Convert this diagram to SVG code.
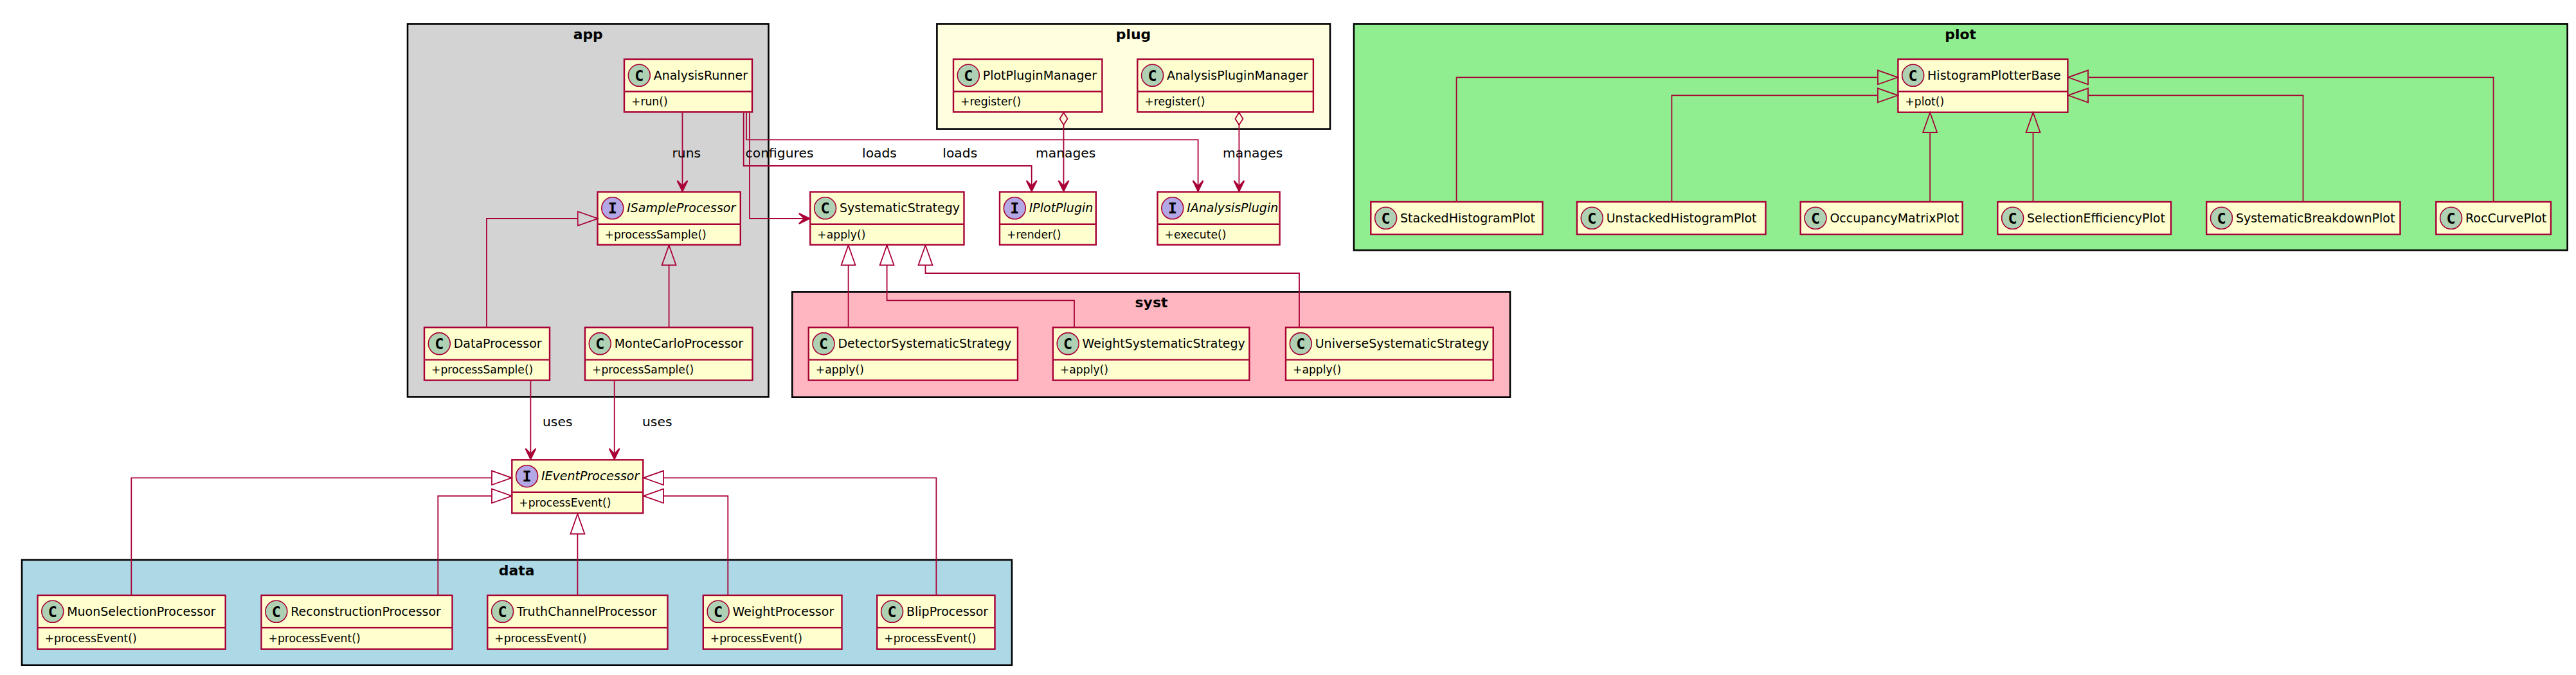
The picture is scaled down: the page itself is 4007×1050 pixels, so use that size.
<svg xmlns="http://www.w3.org/2000/svg" width="4007" height="1050" viewBox="0 0 4007 1050">
<style>
text{font-family:"DejaVu Sans",sans-serif;fill:#000}
.pk{stroke:#000;stroke-width:2.6}
.t{font-size:21.9px;font-weight:bold;text-anchor:middle}
.b{fill:#FEFECE;stroke:#A80036;stroke-width:2.4}
.d{stroke:#A80036;stroke-width:2.4}
.c{fill:#ADD1B2;stroke:#A80036;stroke-width:1.6}
.i{fill:#B4A7E5;stroke:#A80036;stroke-width:1.6}
.g{font-family:"DejaVu Sans Mono",monospace;font-size:23.5px;font-weight:bold;text-anchor:middle}
.n{font-size:19px}
.ni{font-size:19px;font-style:italic}
.m{font-size:17.2px}
.l{font-size:20.3px}
.e{fill:none;stroke:#A80036;stroke-width:1.8}
.ar{marker-end:url(#arrow)}
.ex{marker-end:url(#ext)}
.ag{marker-start:url(#dia);marker-end:url(#arrow)}
</style>
<defs>
<marker id="arrow" markerUnits="userSpaceOnUse" markerWidth="24" markerHeight="24" refX="21" refY="12" orient="auto"><path d="M20 12L3.5 4L12 12L3.5 20Z" fill="#A80036" stroke="#A80036" stroke-width="2"/></marker>
<marker id="ext" markerUnits="userSpaceOnUse" markerWidth="34" markerHeight="26" refX="1" refY="13" orient="auto"><path d="M1 2L32 13L1 24Z" fill="none" stroke="#A80036" stroke-width="1.8"/></marker>
<marker id="dia" markerUnits="userSpaceOnUse" markerWidth="24" markerHeight="16" refX="22" refY="8" orient="auto"><path d="M2.7 8L12.4 2L22 8L12.4 14Z" fill="none" stroke="#A80036" stroke-width="1.8"/></marker>
</defs>
<rect width="4007" height="1050" fill="#FFFFFF"/>
<g id="packages">
<g id="pkg-app"><rect class="pk" x="634" y="37.4" width="561.5" height="580" fill="#D3D3D3"/><text class="t" x="914.7" y="61">app</text></g>
<g id="pkg-plug"><rect class="pk" x="1457.4" y="37.4" width="611.6" height="163.2" fill="#FFFFE0"/><text class="t" x="1763" y="61">plug</text></g>
<g id="pkg-plot"><rect class="pk" x="2106" y="37.4" width="1887.6" height="351.9" fill="#90EE90"/><text class="t" x="3049.7" y="61">plot</text></g>
<g id="pkg-syst"><rect class="pk" x="1232.3" y="454.3" width="1116.7" height="163.4" fill="#FFB6C1"/><text class="t" x="1791" y="477.7">syst</text></g>
<g id="pkg-data"><rect class="pk" x="34" y="871" width="1540" height="163.7" fill="#ADD8E6"/><text class="t" x="803.7" y="895">data</text></g>
</g>
<g id="nodes">
<g id="AnalysisRunner" transform="translate(971 92)"><rect class="b" width="199" height="82.3"/><line class="d" x1="0" x2="199" y1="50.3" y2="50.3"/><circle class="c" cx="23.3" cy="25.3" r="17"/><text class="g" x="23.3" y="33.8">C</text><text class="n" x="45.7" y="31.7">AnalysisRunner</text><text class="m" x="11" y="72">+run()</text></g>
<g id="PlotPluginManager" transform="translate(1483 92)"><rect class="b" width="231.4" height="82.3"/><line class="d" x1="0" x2="231.4" y1="50.3" y2="50.3"/><circle class="c" cx="23.3" cy="25.3" r="17"/><text class="g" x="23.3" y="33.8">C</text><text class="n" x="45.7" y="31.7">PlotPluginManager</text><text class="m" x="11" y="72">+register()</text></g>
<g id="AnalysisPluginManager" transform="translate(1769.3 92)"><rect class="b" width="273.6" height="82.3"/><line class="d" x1="0" x2="273.6" y1="50.3" y2="50.3"/><circle class="c" cx="23.3" cy="25.3" r="17"/><text class="g" x="23.3" y="33.8">C</text><text class="n" x="45.7" y="31.7">AnalysisPluginManager</text><text class="m" x="11" y="72">+register()</text></g>
<g id="HistogramPlotterBase" transform="translate(2952.4 92)"><rect class="b" width="264" height="82.7"/><line class="d" x1="0" x2="264" y1="50.3" y2="50.3"/><circle class="c" cx="23.3" cy="25.3" r="17"/><text class="g" x="23.3" y="33.8">C</text><text class="n" x="45.7" y="31.7">HistogramPlotterBase</text><text class="m" x="11" y="72">+plot()</text></g>
<g id="ISampleProcessor" transform="translate(929.5 298.5)"><rect class="b" width="222.3" height="82.3"/><line class="d" x1="0" x2="222.3" y1="50.3" y2="50.3"/><circle class="i" cx="23.3" cy="25.3" r="17"/><text class="g" x="23.3" y="33.8">I</text><text class="ni" x="45.7" y="31.7">ISampleProcessor</text><text class="m" x="11" y="72">+processSample()</text></g>
<g id="SystematicStrategy" transform="translate(1260.3 298.5)"><rect class="b" width="239.2" height="82.3"/><line class="d" x1="0" x2="239.2" y1="50.3" y2="50.3"/><circle class="c" cx="23.3" cy="25.3" r="17"/><text class="g" x="23.3" y="33.8">C</text><text class="n" x="45.7" y="31.7">SystematicStrategy</text><text class="m" x="11" y="72">+apply()</text></g>
<g id="IPlotPlugin" transform="translate(1555 298.5)"><rect class="b" width="149.8" height="82.3"/><line class="d" x1="0" x2="149.8" y1="50.3" y2="50.3"/><circle class="i" cx="23.3" cy="25.3" r="17"/><text class="g" x="23.3" y="33.8">I</text><text class="ni" x="45.7" y="31.7">IPlotPlugin</text><text class="m" x="11" y="72">+render()</text></g>
<g id="IAnalysisPlugin" transform="translate(1800.5 298.5)"><rect class="b" width="190.1" height="82.3"/><line class="d" x1="0" x2="190.1" y1="50.3" y2="50.3"/><circle class="i" cx="23.3" cy="25.3" r="17"/><text class="g" x="23.3" y="33.8">I</text><text class="ni" x="45.7" y="31.7">IAnalysisPlugin</text><text class="m" x="11" y="72">+execute()</text></g>
<g id="DataProcessor" transform="translate(660 509.3)"><rect class="b" width="195" height="82.3"/><line class="d" x1="0" x2="195" y1="50.3" y2="50.3"/><circle class="c" cx="23.3" cy="25.3" r="17"/><text class="g" x="23.3" y="33.8">C</text><text class="n" x="45.7" y="31.7">DataProcessor</text><text class="m" x="11" y="72">+processSample()</text></g>
<g id="MonteCarloProcessor" transform="translate(910 509.3)"><rect class="b" width="260.5" height="82.3"/><line class="d" x1="0" x2="260.5" y1="50.3" y2="50.3"/><circle class="c" cx="23.3" cy="25.3" r="17"/><text class="g" x="23.3" y="33.8">C</text><text class="n" x="45.7" y="31.7">MonteCarloProcessor</text><text class="m" x="11" y="72">+processSample()</text></g>
<g id="DetectorSystematicStrategy" transform="translate(1257.8 509.3)"><rect class="b" width="325.2" height="82.3"/><line class="d" x1="0" x2="325.2" y1="50.3" y2="50.3"/><circle class="c" cx="23.3" cy="25.3" r="17"/><text class="g" x="23.3" y="33.8">C</text><text class="n" x="45.7" y="31.7">DetectorSystematicStrategy</text><text class="m" x="11" y="72">+apply()</text></g>
<g id="WeightSystematicStrategy" transform="translate(1637.9 509.3)"><rect class="b" width="305.5" height="82.3"/><line class="d" x1="0" x2="305.5" y1="50.3" y2="50.3"/><circle class="c" cx="23.3" cy="25.3" r="17"/><text class="g" x="23.3" y="33.8">C</text><text class="n" x="45.7" y="31.7">WeightSystematicStrategy</text><text class="m" x="11" y="72">+apply()</text></g>
<g id="UniverseSystematicStrategy" transform="translate(2000 509.3)"><rect class="b" width="322.7" height="82.3"/><line class="d" x1="0" x2="322.7" y1="50.3" y2="50.3"/><circle class="c" cx="23.3" cy="25.3" r="17"/><text class="g" x="23.3" y="33.8">C</text><text class="n" x="45.7" y="31.7">UniverseSystematicStrategy</text><text class="m" x="11" y="72">+apply()</text></g>
<g id="IEventProcessor" transform="translate(796.3 715.3)"><rect class="b" width="204" height="83"/><line class="d" x1="0" x2="204" y1="50.4" y2="50.4"/><circle class="i" cx="23.3" cy="25.4" r="17"/><text class="g" x="23.3" y="33.9">I</text><text class="ni" x="45.7" y="32">IEventProcessor</text><text class="m" x="11" y="72.4">+processEvent()</text></g>
<g id="MuonSelectionProcessor" transform="translate(58.5 926)"><rect class="b" width="292.2" height="83.7"/><line class="d" x1="0" x2="292.2" y1="50.3" y2="50.3"/><circle class="c" cx="23.3" cy="25.3" r="17"/><text class="g" x="23.3" y="33.8">C</text><text class="n" x="45.7" y="32">MuonSelectionProcessor</text><text class="m" x="11" y="73">+processEvent()</text></g>
<g id="ReconstructionProcessor" transform="translate(406.5 926)"><rect class="b" width="297" height="83.7"/><line class="d" x1="0" x2="297" y1="50.3" y2="50.3"/><circle class="c" cx="23.3" cy="25.3" r="17"/><text class="g" x="23.3" y="33.8">C</text><text class="n" x="45.7" y="32">ReconstructionProcessor</text><text class="m" x="11" y="73">+processEvent()</text></g>
<g id="TruthChannelProcessor" transform="translate(758.3 926)"><rect class="b" width="280.2" height="83.7"/><line class="d" x1="0" x2="280.2" y1="50.3" y2="50.3"/><circle class="c" cx="23.3" cy="25.3" r="17"/><text class="g" x="23.3" y="33.8">C</text><text class="n" x="45.7" y="32">TruthChannelProcessor</text><text class="m" x="11" y="73">+processEvent()</text></g>
<g id="WeightProcessor" transform="translate(1093.8 926)"><rect class="b" width="215.7" height="83.7"/><line class="d" x1="0" x2="215.7" y1="50.3" y2="50.3"/><circle class="c" cx="23.3" cy="25.3" r="17"/><text class="g" x="23.3" y="33.8">C</text><text class="n" x="45.7" y="32">WeightProcessor</text><text class="m" x="11" y="73">+processEvent()</text></g>
<g id="BlipProcessor" transform="translate(1364.3 926)"><rect class="b" width="183.2" height="83.7"/><line class="d" x1="0" x2="183.2" y1="50.3" y2="50.3"/><circle class="c" cx="23.3" cy="25.3" r="17"/><text class="g" x="23.3" y="33.8">C</text><text class="n" x="45.7" y="32">BlipProcessor</text><text class="m" x="11" y="73">+processEvent()</text></g>
<g id="StackedHistogramPlot" transform="translate(2132.3 314)"><rect class="b" width="267.2" height="50.7"/><circle class="c" cx="23.3" cy="25.3" r="17"/><text class="g" x="23.3" y="33.8">C</text><text class="n" x="45.7" y="32">StackedHistogramPlot</text></g>
<g id="UnstackedHistogramPlot" transform="translate(2453 314)"><rect class="b" width="293.5" height="50.7"/><circle class="c" cx="23.3" cy="25.3" r="17"/><text class="g" x="23.3" y="33.8">C</text><text class="n" x="45.7" y="32">UnstackedHistogramPlot</text></g>
<g id="OccupancyMatrixPlot" transform="translate(2800.7 314)"><rect class="b" width="251.9" height="50.7"/><circle class="c" cx="23.3" cy="25.3" r="17"/><text class="g" x="23.3" y="33.8">C</text><text class="n" x="45.7" y="32">OccupancyMatrixPlot</text></g>
<g id="SelectionEfficiencyPlot" transform="translate(3107.3 314)"><rect class="b" width="269.7" height="50.7"/><circle class="c" cx="23.3" cy="25.3" r="17"/><text class="g" x="23.3" y="33.8">C</text><text class="n" x="45.7" y="32">SelectionEfficiencyPlot</text></g>
<g id="SystematicBreakdownPlot" transform="translate(3432.2 314)"><rect class="b" width="301.3" height="50.7"/><circle class="c" cx="23.3" cy="25.3" r="17"/><text class="g" x="23.3" y="33.8">C</text><text class="n" x="45.7" y="32">SystematicBreakdownPlot</text></g>
<g id="RocCurvePlot" transform="translate(3789.3 314)"><rect class="b" width="178.6" height="50.7"/><circle class="c" cx="23.3" cy="25.3" r="17"/><text class="g" x="23.3" y="33.8">C</text><text class="n" x="45.7" y="32">RocCurvePlot</text></g>
</g>
<g id="connectors">
<path class="e ar" d="M1061.5 174.3V298.5"/>
<path class="e ar" d="M1156.7 174.3V258H1604.7V298.5"/>
<path class="e ar" d="M1161 174.3V217.3H1863.6V298.5"/>
<path class="e ar" d="M1166 174.3V340H1260.3"/>
<path class="e ag" d="M1654.5 194.3V298.5"/>
<path class="e ag" d="M1927.4 194.3V298.5"/>
<path class="e ar" d="M825.4 591.6V715.3"/>
<path class="e ar" d="M955.7 591.6V715.3"/>
<path class="e ex" d="M757 509.3V340H898.7"/>
<path class="e ex" d="M1040.6 509.3V412.5"/>
<path class="e ex" d="M1319.6 509.3V412.5"/>
<path class="e ex" d="M1671 509.3V467.4H1379.6V412.5"/>
<path class="e ex" d="M2021 509.3V425H1439.5V412.5"/>
<path class="e ex" d="M204.3 926V743.3H765"/>
<path class="e ex" d="M681.3 926V771.5H765"/>
<path class="e ex" d="M898.4 926V830.5"/>
<path class="e ex" d="M1132.3 926V771.5H1032"/>
<path class="e ex" d="M1456.4 926V743.3H1032"/>
<path class="e ex" d="M2265.6 314V120.3H2921"/>
<path class="e ex" d="M2600.4 314V148.3H2921"/>
<path class="e ex" d="M3002.2 314V206"/>
<path class="e ex" d="M3162.5 314V206"/>
<path class="e ex" d="M3582.5 314V148.3H3248"/>
<path class="e ex" d="M3878.6 314V120.3H3248"/>
<text class="l" x="1045.5" y="245">runs</text>
<text class="l" x="1159.6" y="245">configures</text>
<text class="l" x="1341" y="245">loads</text>
<text class="l" x="1466.3" y="245">loads</text>
<text class="l" x="1611" y="245">manages</text>
<text class="l" x="1902" y="245">manages</text>
<text class="l" x="844" y="662.7">uses</text>
<text class="l" x="999" y="662.7">uses</text>
</g>
</svg>
